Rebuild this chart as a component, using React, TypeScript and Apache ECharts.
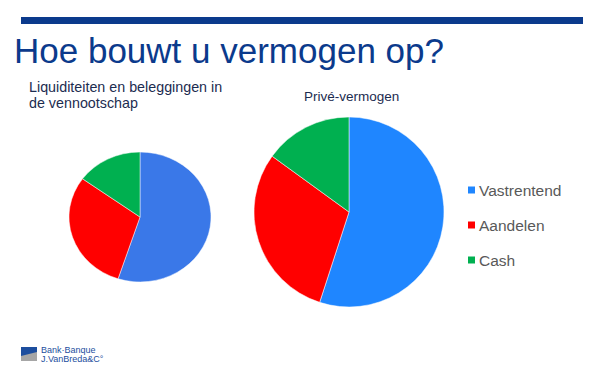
import React, { useEffect, useRef } from "react";
import * as echarts from "echarts";

const categories = ["Vastrentend", "Aandelen", "Cash"];
const vennootschapValues = [55, 30, 15];
const priveValues = [55, 30, 15];
const smallColors = ["#3a78e8", "#ff0000", "#00b050"];
const largeColors = ["#1f86ff", "#ff0000", "#00b050"];

const font = "Liberation Sans, Arial, sans-serif";

export default function App() {
  const ref = useRef<HTMLDivElement>(null);
  const ref2 = useRef<HTMLDivElement>(null);
  useEffect(() => {
    if (!ref.current || !ref2.current) return;
    const chart = echarts.init(ref.current, null, { renderer: "svg" });
    chart.setOption({
      animation: false,
      backgroundColor: "#ffffff",
      legend: {
        orient: "vertical",
        left: 461,
        top: 177,
        itemWidth: 9,
        itemHeight: 9,
        itemGap: 19,
        icon: "rect",
        data: categories,
        textStyle: { fontFamily: font, fontSize: 15.5, color: "#595959", padding: [0, 0, 0, -2] },
      },
      graphic: [
        { type: "rect", shape: { x: 21, y: 17, width: 562, height: 7 }, style: { fill: "#0b3a8c" } },
        {
          type: "text",
          left: 14,
          top: 33,
          style: { text: "Hoe bouwt u vermogen op?", fontFamily: font, fontSize: 35, fill: "#0b3a8c" },
        },
        {
          type: "text",
          left: 29,
          top: 79,
          style: {
            text: "Liquiditeiten en beleggingen in\nde vennootschap",
            fontFamily: font,
            fontSize: 14.3,
            lineHeight: 16,
            fill: "#1c2c50",
          },
        },
        {
          type: "text",
          left: 304,
          top: 89,
          style: { text: "Privé-vermogen", fontFamily: font, fontSize: 13.5, fill: "#1c2c50" },
        },
        { type: "rect", shape: { x: 21, y: 347, width: 16, height: 14 }, style: { fill: "#1d4e9e" } },
        { type: "polygon", shape: { points: [[21, 361], [37, 361], [37, 352], [21, 356]] }, style: { fill: "#a6a6a6" } },
        {
          type: "text",
          left: 41,
          top: 345,
          style: { text: "Bank·Banque", fontFamily: font, fontSize: 9, fill: "#1d4e9e" },
        },
        {
          type: "text",
          left: 41,
          top: 354.5,
          style: { text: "J.VanBreda&C°", fontFamily: font, fontSize: 9, fill: "#1d4e9e" },
        },
      ],
      series: [
        {
          type: "pie",
          center: [349, 212],
          radius: 95,
          startAngle: 90,
          clockwise: true,
          label: { show: false },
          labelLine: { show: false },
          itemStyle: { borderColor: "#ffffff", borderWidth: 0.5 },
          data: categories.map((c, i) => ({ name: c, value: priveValues[i], itemStyle: { color: largeColors[i] } })),
        },
      ],
    });

    const chart2 = echarts.init(ref2.current, null, { renderer: "svg" });
    chart2.setOption({
      animation: false,
      series: [
        {
          type: "pie",
          center: [140, 217],
          radius: 71,
          startAngle: 90,
          clockwise: true,
          label: { show: false },
          labelLine: { show: false },
          itemStyle: { borderColor: "#ffffff", borderWidth: 0.5 },
          data: categories.map((c, i) => ({ name: c, value: vennootschapValues[i], itemStyle: { color: smallColors[i] } })),
        },
      ],
    });
    return () => {
      chart.dispose();
      chart2.dispose();
    };
  }, []);
  return (
    <div style={{ position: "absolute", left: 0, top: 0, width: 600, height: 381 }}>
      <div ref={ref} style={{ width: 600, height: 381, position: "absolute", left: 0, top: 0 }} />
      <div
        ref={ref2}
        style={{
          width: 300,
          height: 381,
          position: "absolute",
          left: 0,
          top: 0,
          transform: "scaleY(0.915)",
          transformOrigin: "140px 217px",
        }}
      />
    </div>
  );
}
